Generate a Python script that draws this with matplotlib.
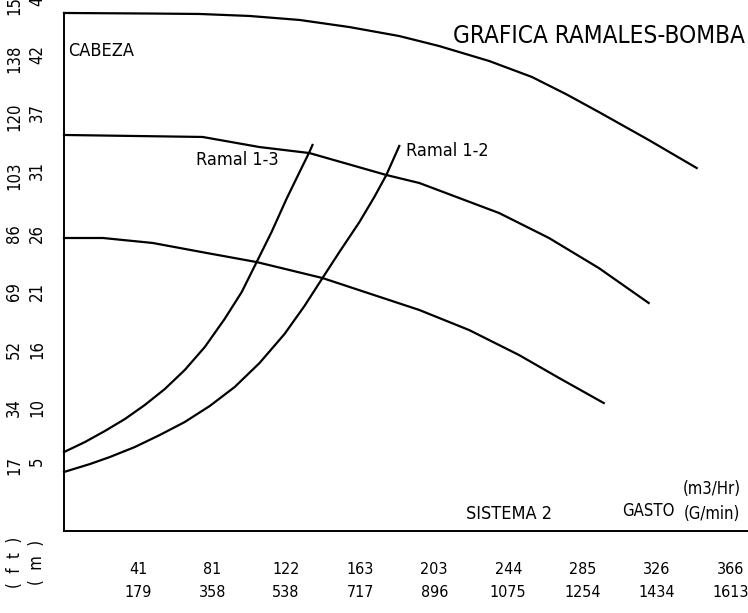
import matplotlib
matplotlib.use('Agg')
import matplotlib.pyplot as plt

plt.rcParams['font.family'] = ['DejaVu Sans Condensed', 'DejaVu Sans']
plt.rcParams['font.stretch'] = 'condensed'

# gasto (m3/Hr) vs cabeza (m)
bomba_1_q = [0, 47.2, 74.6, 102.0, 129.5, 156.9, 184.3, 206.2, 233.7, 257.2, 275.9, 294.0, 321.4, 347.8]
bomba_1_h = [46.08, 46.03, 45.99, 45.81, 45.45, 44.81, 44.00, 43.10, 41.75, 40.31, 38.77, 37.15, 34.63, 32.10]
bomba_2_q = [0, 76.2, 107.5, 134.9, 177.2, 195.3, 239.2, 266.6, 294.0, 321.4]
bomba_2_h = [35.08, 34.90, 33.99, 33.45, 31.47, 30.75, 28.04, 25.79, 23.08, 19.93]
bomba_3_q = [0, 21.4, 48.8, 78.4, 105.9, 142.1, 195.3, 222.7, 250.1, 272.1, 296.7]
bomba_3_h = [25.79, 25.79, 25.34, 24.44, 23.62, 22.18, 19.30, 17.49, 15.24, 13.17, 10.91]
ramal_13_q = [0, 11.5, 22.5, 33.5, 44.4, 55.4, 66.4, 77.4, 88.3, 97.7, 105.9, 114.1, 122.3, 129.5, 134.9, 136.6]
ramal_13_h = [6.49, 7.39, 8.39, 9.47, 10.73, 12.17, 13.89, 15.96, 18.49, 20.92, 23.62, 26.33, 29.31, 31.74, 33.54, 34.18]
ramal_12_q = [0, 14.3, 25.2, 38.9, 52.7, 66.4, 80.1, 93.8, 107.5, 121.2, 132.2, 142.1, 151.4, 162.4, 170.6, 177.2, 184.3]
ramal_12_h = [4.69, 5.41, 6.04, 6.94, 8.03, 9.20, 10.64, 12.35, 14.52, 17.13, 19.66, 22.18, 24.53, 27.23, 29.49, 31.47, 34.09]

x_m3hr = [41, 81, 122, 163, 203, 244, 285, 326, 366]
x_gmin = [179, 358, 538, 717, 896, 1075, 1254, 1434, 1613]
y_ft = [17, 34, 52, 69, 86, 103, 120, 138, 155]
y_m = [5, 10, 16, 21, 26, 31, 37, 42, 47]

W, H = 748, 613
fig = plt.figure(figsize=(W / 100, H / 100), dpi=100, facecolor='white')
# axes run to the top edge so the cut 155/47 label still shows
ax = fig.add_axes([64 / W, (H - 531) / H, (W - 64) / W, 531 / H])

for q, h in [(bomba_1_q, bomba_1_h), (bomba_2_q, bomba_2_h), (bomba_3_q, bomba_3_h),
             (ramal_13_q, ramal_13_h), (ramal_12_q, ramal_12_h)]:
    ax.plot(q, h, color='black', lw=1.6, solid_joinstyle='round', clip_on=False)

for s in ['top', 'right']:
    ax.spines[s].set_visible(False)
for s in ['left', 'bottom']:
    ax.spines[s].set_linewidth(1.4)

# ticks are equal steps: 40.7 m3/Hr and 5.24 m (17.2 ft)
ax.set_xticks([40.7 * (i + 1) for i in range(len(x_m3hr))],
              labels=[f'{a}\n{b}' for a, b in zip(x_m3hr, x_gmin)])
ax.set_yticks([5.24 * (i + 1) for i in range(len(y_ft))],
              labels=[f'{a}\n{b}' for a, b in zip(y_ft, y_m)])
ax.set_xlim(0, 376)
ax.set_ylim(-0.63, 47.25)
ax.spines['left'].set_bounds(-0.63, 46.08)

ax.tick_params(axis='x', length=0, pad=22, labelsize=11.5)
ax.tick_params(axis='y', length=0, pad=13, labelsize=12, labelrotation=90)
for t in ax.get_xticklabels():
    t.set_linespacing(1.7)
for t in ax.get_yticklabels():
    t.set_linespacing(1.35)
    t.set_verticalalignment('center')

fig.text(26 / W, 1 - 562 / H, '(  f  t  )\n(  m  )', rotation=90, ha='center', va='center',
         fontsize=12, linespacing=1.35)

fig.text(68 / W, 1 - 51 / H, 'CABEZA', fontsize=13, va='center')
fig.text(745 / W, 1 - 36 / H, 'GRAFICA RAMALES-BOMBA', ha='right', va='center', fontsize=17.5)
fig.text(196 / W, 1 - 160 / H, 'Ramal 1-3', ha='left', va='center', fontsize=13)
fig.text(406 / W, 1 - 151 / H, 'Ramal 1-2', ha='left', va='center', fontsize=13)
fig.text(509 / W, 1 - 514 / H, 'SISTEMA 2', ha='center', va='center', fontsize=13)
fig.text(648 / W, 1 - 511 / H, 'GASTO', ha='center', va='center', fontsize=12)
fig.text(712 / W, 1 - 489 / H, '(m3/Hr)', ha='center', va='center', fontsize=12)
fig.text(712 / W, 1 - 514 / H, '(G/min)', ha='center', va='center', fontsize=12)

fig.savefig('out.png', dpi=100)
